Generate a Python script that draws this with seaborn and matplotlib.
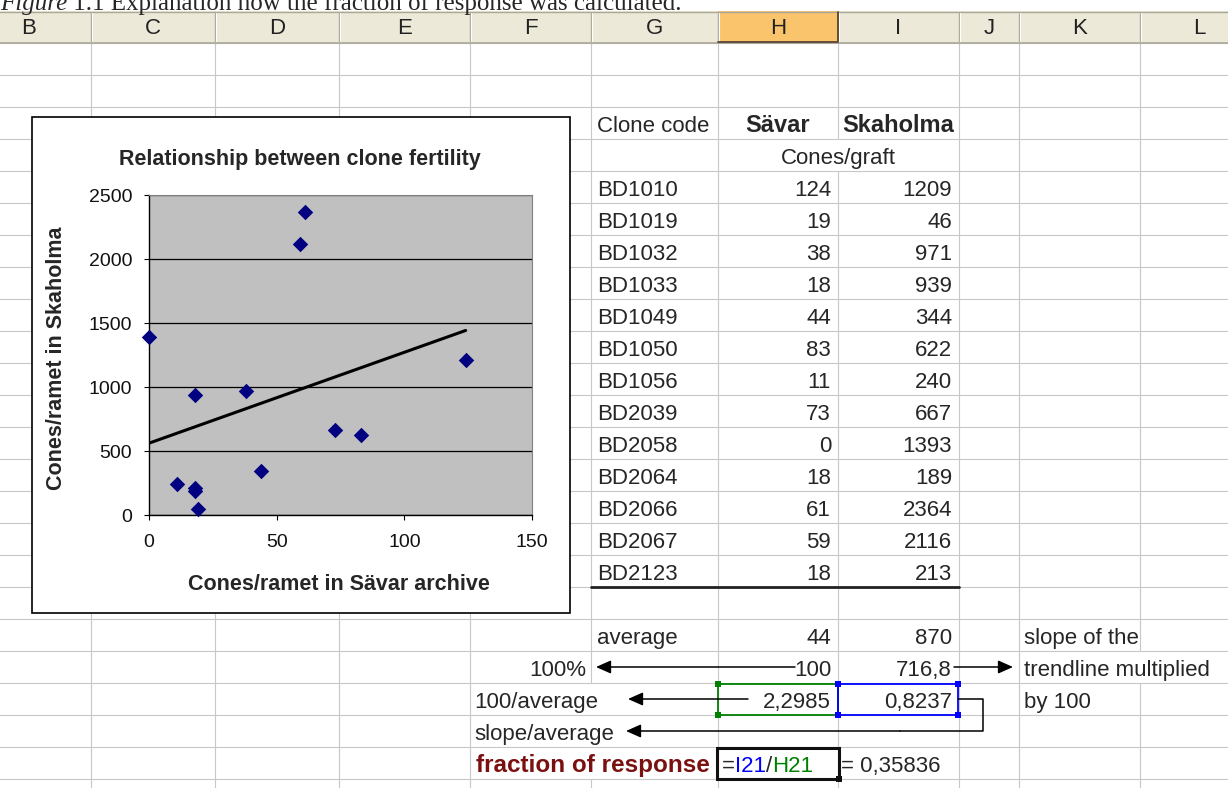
import matplotlib
matplotlib.use("Agg")
import matplotlib.pyplot as plt
from matplotlib.patches import Rectangle
import seaborn as sns

# ---- data -------------------------------------------------------------
clone_codes = ["BD1010", "BD1019", "BD1032", "BD1033", "BD1049", "BD1050", "BD1056",
               "BD2039", "BD2058", "BD2064", "BD2066", "BD2067", "BD2123"]
savar = [124, 19, 38, 18, 44, 83, 11, 73, 0, 18, 61, 59, 18]
skaholma = [1209, 46, 971, 939, 344, 622, 240, 667, 1393, 189, 2364, 2116, 213]

average_row = ["44", "870"]
hundred_row = ["100", "716,8"]
ratio_row = ["2,2985", "0,8237"]
fraction_value = "0,35836"

column_letters = ["B", "C", "D", "E", "F", "G", "H", "I", "J", "K", "L"]
column_edges = [-34, 91, 215, 339, 470, 591, 718, 838, 959, 1019, 1140, 1258]

x_ticks = [0, 50, 100, 150]
y_ticks = [0, 500, 1000, 1500, 2000, 2500]

# ---- style -------------------------------------------------------------
sns.set_theme(style="white")
plt.rcParams["font.family"] = ["Liberation Sans", "DejaVu Sans"]

W, H = 1228, 788
fig = plt.figure(figsize=(W / 100, H / 100), dpi=100)
fig.patch.set_facecolor("white")

# sheet canvas in pixel units
bg = fig.add_axes([0, 0, 1, 1])
bg.set_xlim(0, W)
bg.set_ylim(H, 0)
bg.axis("off")

GRID = "#C8C8C8"
ROW0, ROWH = 43, 32
N_ROWS = 24
CELL_FS = 16


def row_top(r):
    return ROW0 + ROWH * (r - 1)


def baseline(r):
    return row_top(r) + ROWH - 7


# gridlines; cells covered by overflowing text or merged cells hide their border
hidden = {(838, 4), (1140, 20), (591, 21), (591, 22), (591, 23)}
for r in range(1, N_ROWS + 1):
    y = row_top(r)
    bg.plot([0, W], [y, y], color=GRID, lw=0.8, zorder=1)
for x in column_edges[1:-1]:
    for r in range(1, N_ROWS + 1):
        if (x, r) in hidden:
            continue
        y0 = row_top(r)
        bg.plot([x, x], [y0, min(y0 + ROWH, H)], color=GRID, lw=0.8, zorder=1)

# column header band
bg.add_patch(Rectangle((0, 11), W, 32, fc="#ECE9D8", ec="none", zorder=2))
bg.add_patch(Rectangle((718, 11), 120, 32, fc="#F9C46B", ec="none", zorder=2))
bg.plot([0, W], [11.5, 11.5], color="#ACA899", lw=1, zorder=2)
bg.plot([0, W], [42.5, 42.5], color="#ACA899", lw=1.2, zorder=2)
for x in column_edges[1:-1]:
    bg.plot([x, x], [13, 41], color="#ACA899", lw=1, zorder=2)
    bg.plot([x + 1, x + 1], [13, 41], color="white", lw=0.8, zorder=2)
bg.plot([718, 838, 838], [42, 42, 12], color="#5A4632", lw=1.3, zorder=2)
for letter, a, b in zip(column_letters, column_edges[:-1], column_edges[1:]):
    bg.text((a + b) / 2, 28, letter, ha="center", va="center",
            fontsize=CELL_FS, color="#222222", zorder=3)

# caption, running off the top edge of the sheet view
cap1 = bg.text(0, 10, "Figure", fontfamily="Liberation Serif", fontstyle="italic",
               fontsize=18, va="baseline", ha="left", zorder=3)
bg.annotate(" 1.1 Explanation how the fraction of response was calculated.",
            xy=(1, 0), xycoords=cap1, va="bottom", ha="left",
            fontfamily="Liberation Serif", fontsize=18, zorder=3)

# ---- table ----------------------------------------------------------------
bg.text(597, baseline(3), "Clone code", fontsize=CELL_FS, va="baseline", zorder=3)
bg.text(778, baseline(3), "Sävar", fontsize=CELL_FS + 1, fontweight="bold",
        ha="center", va="baseline", zorder=3)
bg.text(898, baseline(3), "Skaholma", fontsize=CELL_FS + 1, fontweight="bold",
        ha="center", va="baseline", zorder=3)
bg.text(838, baseline(4), "Cones/graft", fontsize=CELL_FS, ha="center",
        va="baseline", zorder=3)
for i, (code, s, k) in enumerate(zip(clone_codes, savar, skaholma)):
    r = 5 + i
    bg.text(597, baseline(r), code, fontsize=CELL_FS, va="baseline", zorder=3)
    bg.text(831, baseline(r), str(s), fontsize=CELL_FS, ha="right", va="baseline", zorder=3)
    bg.text(952, baseline(r), str(k), fontsize=CELL_FS, ha="right", va="baseline", zorder=3)
bg.plot([591, 959], [587, 587], color="#222222", lw=2, zorder=3)

# ---- summary rows -------------------------------------------------------
bg.text(597, baseline(19), "average", fontsize=CELL_FS, va="baseline", zorder=3)
bg.text(831, baseline(19), average_row[0], fontsize=CELL_FS, ha="right", va="baseline", zorder=3)
bg.text(952, baseline(19), average_row[1], fontsize=CELL_FS, ha="right", va="baseline", zorder=3)
bg.text(1024, baseline(19), "slope of the", fontsize=CELL_FS, va="baseline", zorder=3)

bg.text(586, baseline(20), "100%", fontsize=CELL_FS, ha="right", va="baseline", zorder=3)
bg.text(831, baseline(20), hundred_row[0], fontsize=CELL_FS, ha="right", va="baseline", zorder=3)
bg.text(952, baseline(20), hundred_row[1], fontsize=CELL_FS, ha="right", va="baseline", zorder=3)
bg.text(1024, baseline(20), "trendline multiplied", fontsize=CELL_FS, va="baseline", zorder=3)

bg.text(474, baseline(21), "100/average", fontsize=CELL_FS, va="baseline", zorder=3)
bg.text(831, baseline(21), ratio_row[0], fontsize=CELL_FS, ha="right", va="baseline", zorder=3)
bg.text(952, baseline(21), ratio_row[1], fontsize=CELL_FS, ha="right", va="baseline", zorder=3)
bg.text(1024, baseline(21), "by 100", fontsize=CELL_FS, va="baseline", zorder=3)

bg.text(474, baseline(22), "slope/average", fontsize=CELL_FS, va="baseline", zorder=3)

bg.text(476, baseline(23), "fraction of response", fontsize=17.5, fontweight="bold",
        color="#7A1010", va="baseline", zorder=3)
f0 = bg.text(722, baseline(23), "=", fontsize=CELL_FS, va="baseline", zorder=3)
f1 = bg.annotate("I21", xy=(1, 0), xycoords=f0, va="bottom", fontsize=CELL_FS,
                 color="#0000FF", zorder=3)
f2 = bg.annotate("/", xy=(1, 0), xycoords=f1, va="bottom", fontsize=CELL_FS, zorder=3)
bg.annotate("H21", xy=(1, 0), xycoords=f2, va="bottom", fontsize=CELL_FS,
            color="#008000", zorder=3)
bg.text(841, baseline(23), "= " + fraction_value, fontsize=CELL_FS, va="baseline", zorder=3)

# selection outlines
bg.add_patch(Rectangle((718, 684), 120, 31, fill=False, ec="#008000", lw=1.3, zorder=4))
bg.add_patch(Rectangle((838, 684), 120, 31, fill=False, ec="#0000FF", lw=1.3, zorder=4))
for (hx, hy, c) in [(718, 684, "#008000"), (718, 715, "#008000"),
                    (838, 684, "#0000FF"), (838, 715, "#0000FF"),
                    (958, 684, "#0000FF"), (958, 715, "#0000FF")]:
    bg.add_patch(Rectangle((hx - 3, hy - 3), 6, 6, fc=c, ec="none", zorder=5))
bg.add_patch(Rectangle((717, 748), 122, 31, fill=False, ec="#111111", lw=2.2, zorder=4))
bg.add_patch(Rectangle((836, 776), 6, 6, fc="#111111", ec="none", zorder=5))

# arrows
arrow = dict(arrowstyle="-|>,head_length=0.45,head_width=0.2", mutation_scale=20,
             lw=1.1, color="black", shrinkA=0, shrinkB=0)
yc20 = row_top(20) + 16
yc21 = row_top(21) + 16
yc22 = row_top(22) + 16
bg.annotate("", xy=(596, yc20), xytext=(795, yc20), arrowprops=arrow, zorder=4)
bg.annotate("", xy=(1013, yc20), xytext=(954, yc20), arrowprops=arrow, zorder=4)
bg.annotate("", xy=(628, yc21), xytext=(748, yc21), arrowprops=arrow, zorder=4)
bg.plot([958, 983, 983, 900], [yc21, yc21, yc22, yc22], color="black", lw=1.1, zorder=4)
bg.annotate("", xy=(626, yc22), xytext=(900, yc22), arrowprops=arrow, zorder=4)

# ---- embedded chart -----------------------------------------------------
bg.add_patch(Rectangle((32, 117), 538, 496, fc="white", ec="black", lw=1.2, zorder=6))
bg.text(300, 159, "Relationship between clone fertility", fontsize=15.5,
        fontweight="bold", ha="center", va="center", zorder=7)
bg.text(339, 585, "Cones/ramet in Sävar archive", fontsize=15.5,
        fontweight="bold", ha="center", va="center", zorder=7)
bg.text(57, 358, "Cones/ramet in Skaholma", fontsize=15.5, fontweight="bold",
        rotation=90, ha="center", va="center", zorder=7)

ax = fig.add_axes([149 / W, 1 - 515 / H, 383 / W, 320 / H])
ax.set_zorder(10)
ax.set_facecolor("#C0C0C0")
sns.regplot(x=savar, y=skaholma, ax=ax, ci=None, marker="D", color="#000080",
            scatter_kws=dict(s=62, linewidths=0, clip_on=False, zorder=5, alpha=1),
            line_kws=dict(color="black", lw=2.2, zorder=4))
ax.set_xlim(0, 150)
ax.set_ylim(0, 2500)
ax.set_xticks(x_ticks)
ax.set_yticks(y_ticks)
ax.set_xlabel("")
ax.set_ylabel("")
ax.yaxis.grid(True, color="black", lw=0.9)
ax.xaxis.grid(False)
ax.set_axisbelow(True)
for side in ["left", "bottom"]:
    ax.spines[side].set_color("black")
    ax.spines[side].set_linewidth(1.0)
for side in ["top", "right"]:
    ax.spines[side].set_color("#808080")
    ax.spines[side].set_linewidth(0.8)
ax.tick_params(axis="both", direction="out", length=3.6, width=0.8, color="black",
               labelsize=14, labelcolor="#111111", left=True, bottom=True)
ax.tick_params(axis="y", pad=8.5)
ax.tick_params(axis="x", pad=10)

fig.savefig("out.png", dpi=100, facecolor="white")
